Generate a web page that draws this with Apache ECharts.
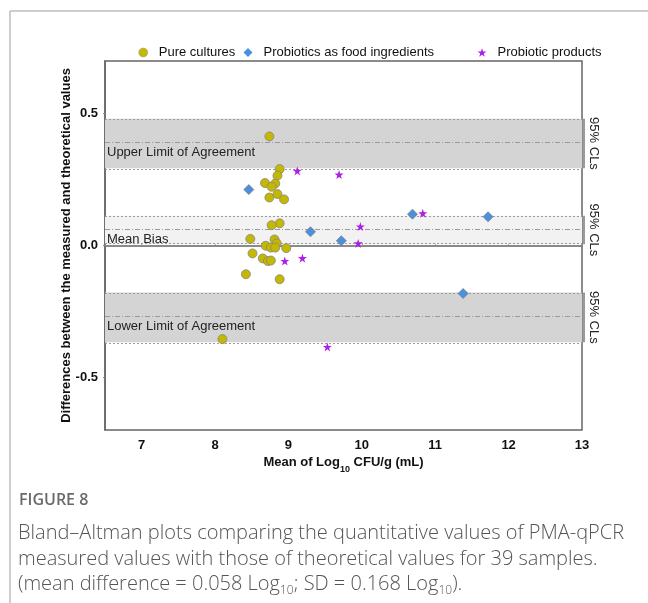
<!DOCTYPE html>
<html><head><meta charset="utf-8">
<script src="https://cdn.jsdelivr.net/npm/echarts@6/dist/echarts.min.js"></script>
<style>html,body{margin:0;padding:0;background:#fff}#c{width:648px;height:603px}</style>
</head><body><div id="c"></div>
<script>
// ---- data ----
const xTicks = [7, 8, 9, 10, 11, 12, 13];
const yTicks = [-0.5, 0, 0.5];
const seriesNames = ['Pure cultures', 'Probiotics as food ingredients', 'Probiotic products'];
const pureX = [8.74, 8.88, 8.85, 8.68, 8.82, 8.77, 8.74, 8.85, 8.94, 8.88, 8.77, 8.48, 8.81, 8.84, 8.69, 8.76, 8.82, 8.97, 8.51, 8.65, 8.72, 8.76, 8.42, 8.88, 8.10];
const pureY = [0.414, 0.29, 0.265, 0.237, 0.235, 0.223, 0.182, 0.195, 0.175, 0.084, 0.077, 0.025, 0.023, 0.008, -0.001, -0.008, -0.008, -0.01, -0.03, -0.049, -0.059, -0.057, -0.109, -0.128, -0.355];
const foodX = [8.46, 9.30, 9.72, 10.69, 11.72, 11.38];
const foodY = [0.212, 0.052, 0.018, 0.119, 0.109, -0.182];
const prodX = [9.12, 9.69, 10.83, 9.98, 9.95, 8.95, 9.19, 9.53];
const prodY = [0.283, 0.269, 0.122, 0.072, 0.008, -0.059, -0.048, -0.385];
const bandNames = ['Upper Limit of Agreement', 'Mean Bias', 'Lower Limit of Agreement'];
const bandLow = [0.293, 0.005, -0.367];
const bandMid = [0.387, 0.056, -0.272];
const bandHigh = [0.481, 0.113, -0.178];
const bandLabel = '95% CLs';
const captionHead = 'FIGURE 8';

// ---- chart ----
const FONT = 'Liberation Sans, Arial, sans-serif';
const zip = (a, b) => a.map((v, i) => [v, b[i]]);
const bandFill = ['#d4d4d4', '#f2f2f2', '#d4d4d4'];
const STAR = 'path://M50,0 L61.8,35.4 L99,35.4 L69,57.3 L80.4,92.7 L50,70.8 L19.6,92.7 L31,57.3 L1,35.4 L38.2,35.4 Z';
const colors = ['#c4b800', '#4a8fe0', '#ad1ee6'];
const icons = ['circle', 'diamond', STAR];
const legendLeft = [138.5, 243.5, 477.5];

const markAreaData = bandLow.map((lo, i) => [
  { yAxis: lo, itemStyle: { color: bandFill[i] } },
  { yAxis: bandHigh[i] }
]);
const markLineData = [];
bandLow.forEach((lo, i) => {
  markLineData.push({ yAxis: lo, lineStyle: { type: [2, 2], color: '#9a9a9a', width: 1 }, label: { show: false } });
  markLineData.push({ yAxis: bandHigh[i], lineStyle: { type: [2, 2], color: '#9a9a9a', width: 1 }, label: { show: false } });
  markLineData.push({ yAxis: bandMid[i], name: bandNames[i],
    lineStyle: { type: [5, 2, 1, 2], color: '#9a9a9a', width: 1 },
    label: { show: true, position: 'insideStartBottom', formatter: bandNames[i], color: '#222', fontSize: 13, fontFamily: FONT, distance: [2, 3] } });
});
markLineData.push({ yAxis: 0, lineStyle: { type: 'solid', color: '#8a8a8a', width: 1.6 }, label: { show: false } });

const chart = echarts.init(document.getElementById('c'), null, { renderer: 'canvas' });
const option = {
  animation: false,
  backgroundColor: '#fff',
  textStyle: { fontFamily: FONT },
  grid: { left: 105, right: 66, top: 61, bottom: 173, show: true, borderColor: '#666', borderWidth: 1.5, backgroundColor: 'transparent' },
  legend: seriesNames.map((nm, i) => ({
    top: 46, left: legendLeft[i], itemWidth: 9, itemHeight: 9, padding: 0,
    textStyle: { fontSize: 13, color: '#111', fontFamily: FONT, padding: [0, 0, 0, 6] },
    data: [{ name: nm, icon: icons[i], itemStyle: { color: colors[i], borderColor: '#999', borderWidth: i === 0 ? 0.5 : 0 } }]
  })),
  xAxis: {
    type: 'value', min: 6.5, max: 13,
    axisLine: { show: true, lineStyle: { color: '#666', width: 1.5 } },
    axisTick: { show: true, inside: true, length: 2, customValues: xTicks, lineStyle: { color: '#888' } },
    axisLabel: { customValues: xTicks, fontSize: 13, fontWeight: 'bold', color: '#111', margin: 9, fontFamily: FONT },
    splitLine: { show: false },
    name: '{a|Mean of Log}{s|10}{a| CFU/g (mL)}',
    nameLocation: 'middle', nameGap: 26, nameMoveOverlap: false,
    nameTextStyle: { rich: {
      a: { fontSize: 13, fontWeight: 'bold', color: '#111', fontFamily: FONT, lineHeight: 18, verticalAlign: 'top' },
      s: { fontSize: 9, fontWeight: 'bold', color: '#111', fontFamily: FONT, lineHeight: 18, verticalAlign: 'bottom', padding: [8, 0, 0, 0] }
    } }
  },
  yAxis: {
    type: 'value', min: -0.7, max: 0.7,
    axisLine: { show: true, lineStyle: { color: '#666', width: 1.5 } },
    axisTick: { show: true, length: 2, customValues: yTicks, lineStyle: { color: '#888' } },
    axisLabel: { customValues: yTicks, fontSize: 13, fontWeight: 'bold', color: '#111', margin: 7, fontFamily: FONT,
      formatter: v => v.toFixed(1) },
    splitLine: { show: false },
    name: 'Differences between the measured and theoretical values',
    nameLocation: 'middle', nameGap: 32, nameMoveOverlap: false,
    nameTextStyle: { fontSize: 13, fontWeight: 'bold', color: '#111', fontFamily: FONT }
  },
  series: [
    { name: 'bands', type: 'scatter', data: [], silent: true, z: 1,
      markArea: { silent: true, data: markAreaData },
      markLine: { silent: true, symbol: 'none', data: markLineData } },
    { name: seriesNames[0], type: 'scatter', symbol: icons[0], symbolSize: 9, z: 5,
      itemStyle: { color: colors[0], borderColor: '#858585', borderWidth: 0.8, opacity: 1 },
      data: zip(pureX, pureY) },
    { name: seriesNames[1], type: 'scatter', symbol: icons[1], symbolSize: 10, z: 5,
      itemStyle: { color: colors[1], borderColor: '#808080', borderWidth: 0.8, opacity: 1 },
      data: zip(foodX, foodY) },
    { name: seriesNames[2], type: 'scatter', symbol: icons[2], symbolSize: 9, z: 5,
      itemStyle: { color: colors[2], opacity: 1 },
      data: zip(prodX, prodY) }
  ]
};
chart.setOption(option);

// right-side CL markers and labels, caption, frame
const g = [];
const xr = chart.convertToPixel({ gridIndex: 0 }, [13, 0])[0];
bandLow.forEach((lo, i) => {
  const y1 = chart.convertToPixel({ gridIndex: 0 }, [13, lo])[1];
  const y2 = chart.convertToPixel({ gridIndex: 0 }, [13, bandHigh[i]])[1];
  g.push({ type: 'line', shape: { x1: xr + 2, y1: y1, x2: xr + 2, y2: y2 }, style: { stroke: '#9a9a9a', lineWidth: 2 }, silent: true });
  g.push({ type: 'text', x: xr + 12, y: (y1 + y2) / 2, rotation: -Math.PI / 2,
    style: { text: bandLabel, fontSize: 13, fill: '#222', fontFamily: FONT, align: 'center', verticalAlign: 'middle' }, silent: true });
});
g.push({ type: 'line', shape: { x1: 10, y1: 11, x2: 10, y2: 603 }, style: { stroke: '#bdbdbd', lineWidth: 1.5 }, silent: true });
g.push({ type: 'line', shape: { x1: 10, y1: 11, x2: 648, y2: 11 }, style: { stroke: '#bdbdbd', lineWidth: 1.5 }, silent: true });
const CF = 'Open Sans, Noto Sans, sans-serif';
g.push({ type: 'text', x: 19, y: 500, style: { text: captionHead, fontSize: 16, fill: '#6a6a6a', fontFamily: CF, fontWeight: 600, verticalAlign: 'middle' } });
const capRich = {
  t: { fontSize: 20, fill: '#555', fontFamily: CF, fontWeight: 300, lineHeight: 25, verticalAlign: 'middle' },
  s: { fontSize: 12, fill: '#555', fontFamily: CF, fontWeight: 300, lineHeight: 25, verticalAlign: 'bottom', padding: [10, 0, 0, 0] }
};
const capLines = [
  '{t|Bland–Altman plots comparing the quantitative values of PMA-qPCR}',
  '{t|measured values with those of theoretical values for 39 samples.}',
  '{t|(mean difference = 0.058 Log}{s|10}{t|; SD = 0.168 Log}{s|10}{t|).}'
];
const capY = [533, 559, 584];
capLines.forEach((txt, i) => {
  g.push({ type: 'text', x: 18, y: capY[i], style: { text: txt, rich: capRich, verticalAlign: 'middle', fontSize: 20, fontFamily: CF } });
});
chart.setOption({ graphic: g });
</script></body></html>
